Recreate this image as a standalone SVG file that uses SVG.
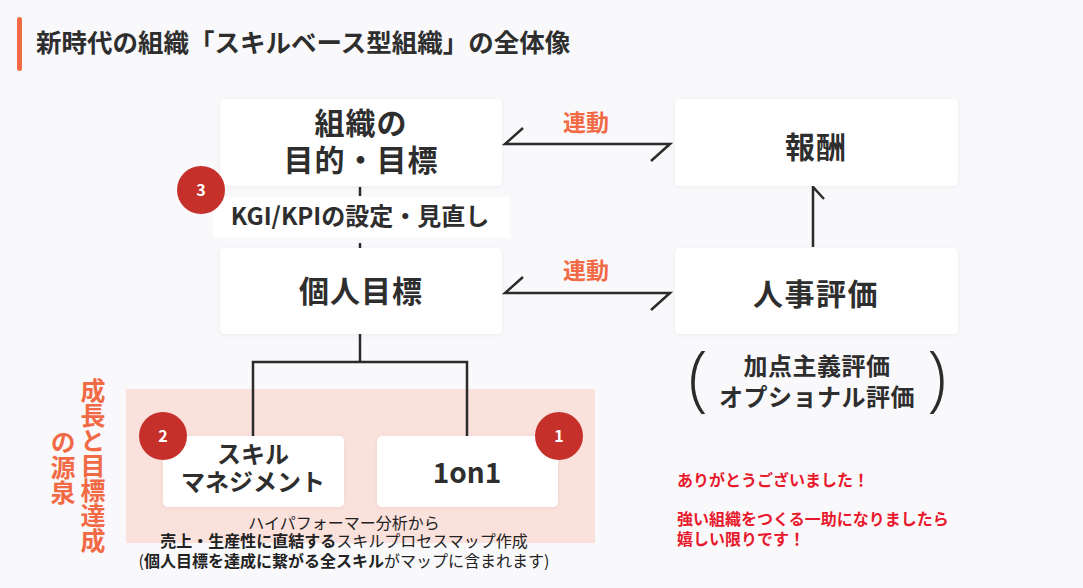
<svg xmlns="http://www.w3.org/2000/svg" width="1083" height="588" viewBox="0 0 1083 588">
<defs>
<style>
.jp{font-family:"Noto Sans CJK JP","Noto Sans",sans-serif}
.box{fill:#ffffff;filter:url(#sh)}
.bt{font-family:"Noto Sans CJK JP","Noto Sans",sans-serif;font-weight:700;fill:#2e2e2e;text-anchor:middle}
.conn{fill:none;stroke:#2b2b2b;stroke-width:2.5;stroke-linejoin:miter}
.badge{fill:#c5312a}
.bn{font-family:"Noto Sans CJK JP","Noto Sans",sans-serif;font-weight:700;font-size:16px;fill:#ffffff;text-anchor:middle}
.or{font-family:"Noto Sans CJK JP","Noto Sans",sans-serif;font-weight:700;fill:#f26a45}
.red{font-family:"Noto Sans CJK JP","Noto Sans",sans-serif;font-weight:700;font-size:16px;fill:#e8192c}
.note{font-family:"Noto Sans CJK JP","Noto Sans",sans-serif;font-size:16px;fill:#222;text-anchor:middle}
.paren{font-family:"Open Sans","Noto Sans",sans-serif;font-weight:300;font-size:71px;fill:#2b2b2b;text-anchor:middle}
</style>
<filter id="sh" x="-10%" y="-20%" width="120%" height="140%">
<feDropShadow dx="0" dy="1" stdDeviation="2" flood-color="#000" flood-opacity="0.06"/>
</filter>
</defs>
<rect x="0" y="0" width="1083" height="588" fill="#f9f9fc"/>

<g id="title">
<rect x="17" y="17" width="5" height="54" rx="2.5" fill="#f26a45"/>
<text x="36" y="52" class="jp" font-size="25.5" font-weight="700" fill="#2e2e2e">新時代の組織「スキルベース型組織」の全体像</text>
</g>

<rect id="growth-area" x="126" y="389" width="469" height="154" fill="#fbe1db"/>

<g id="connectors">
<line x1="360" y1="187" x2="360" y2="248" stroke="#2b2b2b" stroke-width="2.5" stroke-dasharray="9 5"/>
<path class="conn" d="M360,334 V362"/>
<path class="conn" d="M253,436 V362 H467 V436"/>
<path class="conn" d="M523,128 L505,144 H670 L651,161"/>
<path class="conn" d="M523,277 L505,293 H670 L651,310"/>
<path class="conn" d="M813,247 V187 L824,199"/>
</g>

<g id="label-kgi">
<rect x="213" y="197" width="297" height="41" fill="#ffffff"/>
<text x="360" y="225" class="bt" font-size="24" fill="#111">KGI/KPIの設定・見直し</text>
</g>

<g id="node-org-goal">
<rect class="box" x="220" y="99" width="282" height="87" rx="5"/>
<text x="361" y="134" class="bt" font-size="30" letter-spacing="1">組織の</text>
<text x="361" y="171" class="bt" font-size="30" letter-spacing="1">目的・目標</text>
</g>

<g id="node-reward">
<rect class="box" x="675" y="99" width="283" height="87" rx="5"/>
<text x="816" y="158" class="bt" font-size="30" letter-spacing="1">報酬</text>
</g>

<g id="node-personal-goal">
<rect class="box" x="220" y="248" width="282" height="86" rx="5"/>
<text x="361" y="302" class="bt" font-size="30" letter-spacing="1">個人目標</text>
</g>

<g id="node-hr-eval">
<rect class="box" x="675" y="248" width="283" height="86" rx="5"/>
<text x="816" y="305" class="bt" font-size="30" letter-spacing="1.5">人事評価</text>
</g>

<g id="label-renkei">
<text x="586" y="131" class="or" font-size="23" text-anchor="middle">連動</text>
<text x="586" y="279" class="or" font-size="23" text-anchor="middle">連動</text>
</g>

<g id="label-eval-types">
<text x="698" y="403" class="paren">(</text>
<text x="937" y="403" class="paren">)</text>
<text x="817" y="375" class="bt" font-size="24" letter-spacing="0.5">加点主義評価</text>
<text x="817" y="406" class="bt" font-size="24" letter-spacing="0.5">オプショナル評価</text>
</g>

<g id="label-growth">
<text x="93" y="378" class="or" font-size="25" style="writing-mode:vertical-rl">成長と目標達成</text>
<text x="63" y="430" class="or" font-size="25" style="writing-mode:vertical-rl">の源泉</text>
</g>

<g id="node-skill">
<rect class="box" x="163" y="436" width="181" height="71" rx="5"/>
<text x="253" y="463" class="bt" font-size="24">スキル</text>
<text x="253" y="491" class="bt" font-size="24">マネジメント</text>
</g>

<g id="node-1on1">
<rect class="box" x="377" y="436" width="181" height="71" rx="5"/>
<text x="467" y="483" class="bt" font-size="28">1on1</text>
</g>

<g id="badge-3">
<circle class="badge" cx="201" cy="190" r="24"/>
<text x="201" y="196" class="bn">3</text>
</g>
<g id="badge-2">
<circle class="badge" cx="163" cy="436" r="24"/>
<text x="163" y="442" class="bn">2</text>
</g>
<g id="badge-1">
<circle class="badge" cx="559" cy="436" r="24"/>
<text x="559" y="442" class="bn">1</text>
</g>

<g id="note-skill">
<text x="344" y="529" class="note">ハイパフォーマー分析から</text>
<text x="344" y="547" class="note"><tspan font-weight="700">売上・生産性に直結する</tspan>スキルプロセスマップ作成</text>
<text x="344" y="567" class="note">(<tspan font-weight="700">個人目標を達成に繋がる全スキル</tspan>がマップに含まれます)</text>
</g>

<g id="thanks">
<text x="677" y="486" class="red">ありがとうございました！</text>
<text x="677" y="525" class="red">強い組織をつくる一助になりましたら</text>
<text x="677" y="545" class="red">嬉しい限りです！</text>
</g>
</svg>
